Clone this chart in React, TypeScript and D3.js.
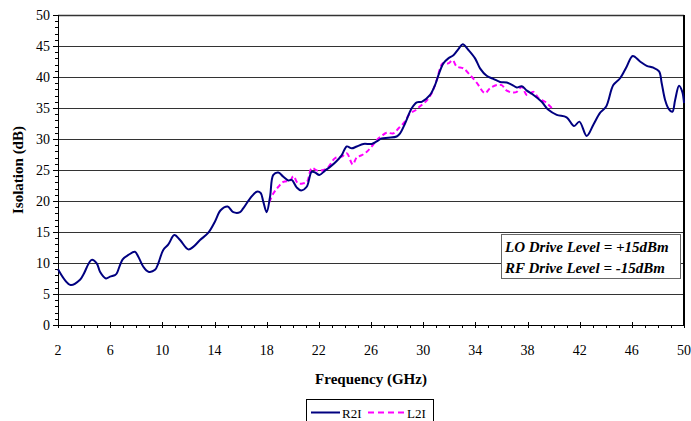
import React from "react";
import * as d3 from "d3";

const r2iFreq = [2, 2.97, 3.69, 3.94, 4.58, 4.97, 5.22, 5.68, 5.99, 6.37, 6.5, 6.96, 7.4, 7.9, 8.16, 8.54, 8.93, 9.44, 9.69, 10.07, 10.46, 10.92, 11.36, 11.99, 12.37, 12.89, 13.53, 14.04, 14.47, 15.01, 15.44, 15.96, 16.2, 16.72, 17.24, 17.54, 17.74, 18.0, 18.26, 18.51, 18.89, 19.28, 19.66, 19.92, 20.3, 20.64, 21.07, 21.45, 21.71, 22.04, 22.47, 22.86, 23.37, 23.76, 24.14, 24.52, 24.91, 25.42, 26.06, 26.44, 26.82, 27.33, 27.97, 28.23, 28.61, 29.12, 29.51, 29.89, 30.53, 30.91, 31.17, 31.55, 31.93, 32.32, 32.7, 33.03, 33.47, 33.98, 34.36, 34.87, 35.38, 35.9, 36.41, 36.92, 37.18, 37.56, 37.95, 38.46, 39.09, 39.6, 40.24, 41.0, 41.57, 41.98, 42.54, 43.05, 43.56, 44.02, 44.58, 45.1, 45.61, 46.07, 46.63, 47.14, 47.65, 48.09, 48.29, 48.55, 48.8, 49.11, 49.32, 49.62, 49.87, 50];
const r2iValue = [9.0, 6.45, 7.3, 8.1, 10.5, 9.95, 8.6, 7.5, 7.8, 8.06, 8.3, 10.6, 11.3, 11.8, 11.0, 9.4, 8.6, 8.9, 9.95, 12.1, 13.0, 14.5, 13.7, 12.2, 12.6, 13.7, 14.9, 16.7, 18.5, 19.1, 18.2, 18.2, 18.8, 20.4, 21.5, 21.3, 19.9, 18.2, 20.7, 24.2, 24.6, 23.9, 23.3, 23.4, 22.2, 21.7, 22.3, 24.7, 24.6, 24.2, 24.9, 25.5, 26.45, 27.4, 28.8, 28.5, 28.8, 29.2, 29.2, 29.6, 30.1, 30.2, 30.4, 30.9, 32.5, 34.95, 35.9, 36.0, 37.1, 38.7, 40.3, 42.2, 43.0, 43.5, 44.5, 45.3, 44.35, 43.0, 41.4, 40.2, 39.7, 39.2, 39.1, 38.6, 38.3, 38.5, 37.8, 37.1, 36.0, 34.7, 33.9, 33.5, 32.1, 32.8, 30.5, 32.3, 34.2, 35.2, 38.7, 39.8, 41.7, 43.4, 42.5, 41.8, 41.5, 40.9, 39.0, 36.3, 34.95, 34.4, 36.3, 38.6, 37.6, 35.8];

const l2iFreq = [18.2, 18.51, 18.9, 19.28, 19.8, 20.05, 20.4, 20.8, 21.1, 21.45, 21.88, 22.35, 22.73, 23.24, 23.76, 24.14, 24.6, 24.91, 25.3, 25.68, 26.06, 26.44, 26.82, 27.2, 27.71, 28.1, 28.48, 28.99, 29.38, 29.89, 30.27, 30.66, 31.04, 31.5, 31.93, 32.26, 32.57, 33.08, 33.6, 34.1, 34.74, 35.13, 35.64, 36.02, 36.41, 36.92, 37.18, 37.56, 37.95, 38.46, 38.84, 39.35, 39.86];
const l2iValue = [19.8, 21.2, 22.3, 23.1, 23.3, 24.0, 22.85, 22.85, 23.1, 25.3, 24.9, 25.0, 25.5, 26.9, 27.15, 27.7, 25.9, 27.05, 27.4, 27.95, 28.8, 29.8, 30.5, 31.0, 30.9, 31.7, 32.5, 34.1, 34.6, 35.5, 36.2, 37.4, 39.5, 42.2, 42.2, 42.7, 41.7, 41.4, 40.3, 39.1, 37.4, 38.2, 38.7, 38.7, 37.8, 37.5, 37.6, 38.4, 37.1, 37.6, 36.6, 36.0, 35.0];

const xTickLabels = [2, 6, 10, 14, 18, 22, 26, 30, 34, 38, 42, 46, 50];
const yTickLabels = [0, 5, 10, 15, 20, 25, 30, 35, 40, 45, 50];
const seriesNames = ["R2I", "L2I"];
const noteLines = ["LO Drive Level = +15dBm", "RF Drive Level = -15dBm"];

const W = 691;
const H = 421;
const left = 58;
const right = 684;
const top = 15;
const bottom = 325;

export default function App() {
  const x = d3.scaleLinear().domain([2, 50]).range([left, right]);
  const y = d3.scaleLinear().domain([0, 50]).range([bottom, top]);

  const line = d3
    .line<[number, number]>()
    .x((d) => x(d[0]))
    .y((d) => y(d[1]))
    .curve(d3.curveCatmullRom.alpha(0.5));

  const r2i = line(r2iFreq.map((f, i) => [f, r2iValue[i]] as [number, number])) || "";
  const l2i = line(l2iFreq.map((f, i) => [f, l2iValue[i]] as [number, number])) || "";

  const yMinor = d3.range(0, 51, 1);
  const xMinor = d3.range(2, 51, 1);
  const font = "'Liberation Serif', 'Times New Roman', serif";

  return (
    <svg
      width={W}
      height={H}
      style={{ position: "absolute", left: 0, top: 0, background: "#fff" }}
      fontFamily={font}
    >
      <rect x={0} y={0} width={W} height={H} fill="#fff" />
      {yTickLabels.map((v) => (
        <line
          key={"g" + v}
          x1={left}
          x2={right}
          y1={Math.round(y(v)) + 0.5}
          y2={Math.round(y(v)) + 0.5}
          stroke={v === 0 ? "#000" : "#333"}
          strokeWidth={v === 50 ? 1.5 : 1}
        />
      ))}
      <line x1={right} x2={right} y1={top} y2={bottom} stroke="#000" strokeWidth={2} />
      <line x1={left + 0.5} x2={left + 0.5} y1={top} y2={bottom + 3} stroke="#000" strokeWidth={1} />
      {yMinor.map((v) => (
        <line
          key={"ym" + v}
          x1={left - (v % 5 === 0 ? 5 : 3)}
          x2={left}
          y1={Math.round(y(v)) + 0.5}
          y2={Math.round(y(v)) + 0.5}
          stroke="#000"
          strokeWidth={1}
        />
      ))}
      {yTickLabels.map((v) => (
        <text key={"yl" + v} x={50} y={y(v) + 5} textAnchor="end" fontSize={14} fill="#000">
          {v}
        </text>
      ))}
      <line x1={left} x2={right} y1={bottom + 0.5} y2={bottom + 0.5} stroke="#000" strokeWidth={1} />
      {xMinor.map((v) => {
        const major = (v - 2) % 4 === 0;
        return (
          <line
            key={"xm" + v}
            x1={Math.round(x(v)) + 0.5}
            x2={Math.round(x(v)) + 0.5}
            y1={major ? bottom - 3 : bottom}
            y2={bottom + 3}
            stroke="#000"
            strokeWidth={1}
          />
        );
      })}
      {xTickLabels.map((v) => (
        <text key={"xl" + v} x={x(v)} y={355} textAnchor="middle" fontSize={14} fill="#000">
          {v}
        </text>
      ))}
      <path d={l2i} fill="none" stroke="#FF00FF" strokeWidth={2} strokeDasharray="5,3" />
      <path d={r2i} fill="none" stroke="#000080" strokeWidth={2} />
      <text x={(left + right) / 2} y={384} textAnchor="middle" fontSize={15} fontWeight="bold" fill="#000">
        Frequency (GHz)
      </text>
      <text
        transform={`translate(23, ${(top + bottom) / 2}) rotate(-90)`}
        textAnchor="middle"
        fontSize={15}
        fontWeight="bold"
        fill="#000"
      >
        Isolation (dB)
      </text>
      <rect x={501.5} y={234.5} width={179} height={44} fill="#fff" stroke="#666" strokeWidth={1} />
      {noteLines.map((t, i) => (
        <text
          key={t}
          x={505}
          y={252 + i * 21}
          fontSize={15}
          fontWeight="bold"
          fontStyle="italic"
          fill="#000"
        >
          {t}
        </text>
      ))}
      <rect x={306.5} y={399.5} width={127} height={30} fill="#fff" stroke="#000" strokeWidth={1} />
      <line x1={311} x2={340} y1={412.5} y2={412.5} stroke="#000080" strokeWidth={2} />
      <text x={342} y={418} fontSize={13} fill="#000">
        {seriesNames[0]}
      </text>
      <line x1={368} x2={405} y1={412.5} y2={412.5} stroke="#FF00FF" strokeWidth={2} strokeDasharray="6,4" />
      <text x={407} y={418} fontSize={13} fill="#000">
        {seriesNames[1]}
      </text>
    </svg>
  );
}
